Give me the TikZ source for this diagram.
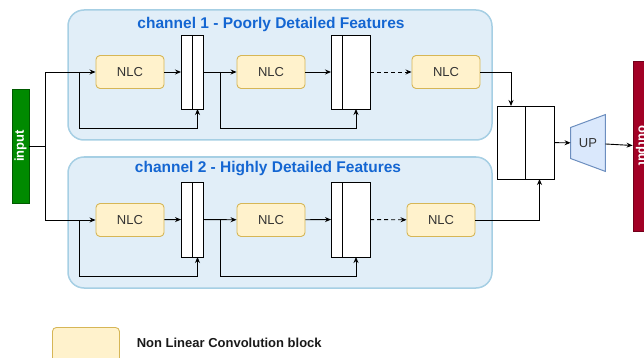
\documentclass[tikz,border=0pt]{standalone}
\usepackage{fontspec}
\setmainfont{Liberation Sans}
\usepackage{tikz}
\usetikzlibrary{arrows.meta}
\usetikzlibrary{positioning}
\usetikzlibrary{backgrounds}
\definecolor{nlcfill}{HTML}{FFF2CC}
\definecolor{nlcline}{HTML}{D6B656}
\definecolor{panelfill}{HTML}{E1EEF8}
\definecolor{panelline}{HTML}{A6CFE4}
\definecolor{titleblue}{HTML}{1466D2}
\definecolor{upfill}{HTML}{DAE8FC}
\definecolor{upline}{HTML}{6C8EBF}
\definecolor{ingreen}{HTML}{008A00}
\definecolor{outred}{HTML}{A20025}
\tikzset{nlc/.style = {draw = nlcline, fill = nlcfill, rounded corners = 4,
                       minimum width = 68, minimum height = 33, text = black!80,
                       font = \fontsize{13}{15}\selectfont}}
\tikzset{cat/.style = {draw, fill = white, inner sep = 0, outer sep = 0}}
\tikzset{panel/.style = {draw = panelline, fill = panelfill, line width = 1.5,
                         rounded corners = 16}}
\tikzset{ptitle/.style = {text = titleblue,
                          font = \fontsize{15.5}{18}\selectfont\bfseries}}
\tikzset{port/.style = {inner sep = 0, minimum height = 17, text = white,
                        font = \fontsize{13}{15}\selectfont\bfseries}}
\tikzset{upbox/.style = {draw = upline, fill = upfill, line width = 1}}

\begin{document}
\begin{tikzpicture}[x = 1pt, y = -1pt, line width = 0.9,
                    >={Stealth[length = 6, width = 5]}]
  \useasboundingbox (0, 0) rectangle (644, 358);
  \clip (0, 0) rectangle (644, 358);

  % the two channels
  \draw [panel] (68, 10) rectangle (492, 140);
  \draw [panel] (68, 157) rectangle (492, 288);
  \node [ptitle] (t1) at (271, 24) {channel 1 - Poorly Detailed Features};
  \node [ptitle] (t2) at (268, 169) {channel 2 - Highly Detailed Features};

  \node [port, rotate = 90, fill = ingreen, draw = ingreen!65!black,
         minimum width = 114] (in) at (20.5, 146) {input};
  \node [port, rotate = -90, fill = outred, draw = outred!70!black,
         minimum width = 170] (out) at (641.5, 146) {output};

  % channel 1
  \node [nlc] (a1) at (130, 72) {NLC};
  \node [cat, minimum width = 11, minimum height = 74] (a1l) at (186.5, 72) {};
  \node [cat, minimum width = 11, minimum height = 74, right = 0 of a1l] (a1r) {};
  \node [nlc] (a2) at (271, 72) {NLC};
  \node [cat, minimum width = 11, minimum height = 74] (a2l) at (336.5, 72) {};
  \node [cat, minimum width = 28, minimum height = 74, right = 0 of a2l] (a2r) {};
  \node [nlc] (a3) at (446, 72) {NLC};

  % channel 2
  \node [nlc] (b1) at (130, 220) {NLC};
  \node [cat, minimum width = 11, minimum height = 75] (b1l) at (186.5, 219.5) {};
  \node [cat, minimum width = 11, minimum height = 75, right = 0 of b1l] (b1r) {};
  \node [nlc] (b2) at (271, 220) {NLC};
  \node [cat, minimum width = 11, minimum height = 75] (b2l) at (336.5, 219.5) {};
  \node [cat, minimum width = 28, minimum height = 75, right = 0 of b2l] (b2r) {};
  \node [nlc] (b3) at (441, 220) {NLC};

  % merge and upsampling
  \node [cat, minimum width = 28, minimum height = 73] (catl) at (511, 142.5) {};
  \node [cat, minimum width = 29, minimum height = 73, right = 0 of catl] (catr) {};
  \node [inner sep = 0, minimum width = 34, minimum height = 56,
         text = black!80, font = \fontsize{13}{15}\selectfont] (up) at (588, 143) {UP};
  \begin{scope}[on background layer]
    \draw [upbox] ([yshift = 15.5] up.west) -- (up.north east)
                  -- (up.south east) -- ([yshift = -15.5] up.west) -- cycle;
  \end{scope}

  \node [nlc, minimum width = 67, minimum height = 40, anchor = north west]
        (key) at (52, 327) {};
  \node [anchor = west, text = black!90,
         font = \fontsize{13}{15}\selectfont\bfseries]
        (keytext) at (133, 343) {Non Linear Convolution block};

  % connectors
  \coordinate (split) at (45, 146);
  \draw (in.south) -- (split);
  \draw [->] (split) |- (a1);
  \draw [->] (split) |- (b1);

  \coordinate (a0) at (79, 72);
  \coordinate (a1o) at (220, 72);
  \draw [->] (a1) -- (a1l);
  \draw [->] (a0) -- ++(0, 56) -| (a1r.south);
  \draw [->] (a1r) -- (a2);
  \draw [->] (a1o) -- ++(0, 56) -| (a2r.south);
  \draw [->] (a2) -- (a2l);
  \draw [->, dash pattern = on 4pt off 3pt] (a2r) -- (a3);
  \draw [->] (a3) -| (catl.north);

  \coordinate (b0) at (79, 220);
  \coordinate (b1o) at (220, 220);
  \draw [->] (b1) -- (b1l);
  \draw [->] (b0) -- ++(0, 56) -| (b1r.south);
  \draw [->] (b1r) -- (b2);
  \draw [->] (b1o) -- ++(0, 56) -| (b2r.south);
  \draw [->] (b2) -- (b2l);
  \draw [->, dash pattern = on 4pt off 3pt] (b2r) -- (b3);
  \draw [->] (b3) -| (catr.south);

  \draw [->] (catr) -- (up);
  \draw [->] (up) -- (out);
\end{tikzpicture}
\end{document}
